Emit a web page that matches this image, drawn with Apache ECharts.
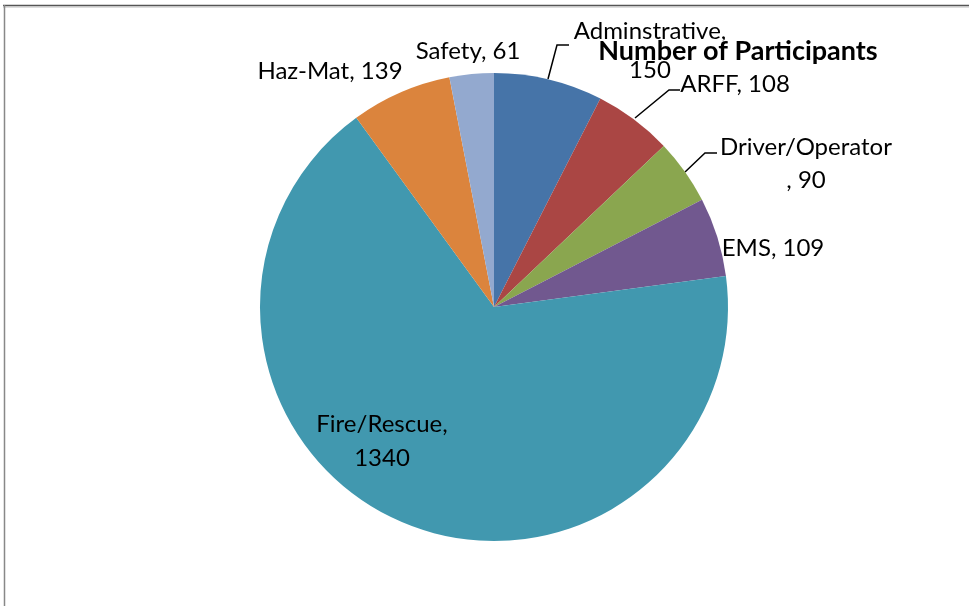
<!DOCTYPE html>
<html>
<head>
<meta charset="utf-8">
<script src="https://cdn.jsdelivr.net/npm/echarts@6/dist/echarts.min.js"></script>
<style>
html,body{margin:0;padding:0;background:#fff;}
#chart{width:969px;height:606px;}
</style>
</head>
<body>
<div id="chart"></div>
<script>
// ---- data ----
var categories = ['Adminstrative', 'ARFF', 'Driver/Operator', 'EMS', 'Fire/Rescue', 'Haz-Mat', 'Safety'];
var values = [150, 108, 90, 109, 1340, 139, 61];
var colors = ['#4674A8', '#AA4644', '#8AA64F', '#71588F', '#4198AF', '#DB843D', '#93A9CF'];
var chartTitle = 'Number of Participants';

// ---- label layout (text anchors & leader lines, in pixels) ----
var labelText = [
  'Adminstrative,\n150',
  'ARFF, 108',
  'Driver/Operator\n, 90',
  'EMS, 109',
  'Fire/Rescue,\n1340',
  'Haz-Mat, 139',
  'Safety, 61'
];
var labelPos = [
  [650, 51], [735, 84], [806, 164], [773, 248], [382, 441], [330, 71], [468, 51]
];
var labelLH = [39, 30, 33, 30, 34, 30, 30];
var leaderLines = [
  [[548, 79], [557, 45], [569, 45]],
  [[635, 118], [669, 90], [680, 90]],
  [[685, 172], [705, 153], [717, 153]],
  null, null, null, null
];

var FONT = 'Lato, "Open Sans", sans-serif';

var chart = echarts.init(document.getElementById('chart'), null, {renderer: 'canvas'});

var seriesData = categories.map(function (c, i) {
  return {
    name: c,
    value: values[i],
    itemStyle: {color: colors[i]},
    label: {lineHeight: labelLH[i]},
    labelLine: {show: !!leaderLines[i]}
  };
});

chart.setOption({
  animation: false,
  backgroundColor: '#ffffff',
  title: {
    text: chartTitle,
    left: 733,
    top: 46,
    textAlign: 'center',
    textVerticalAlign: 'middle',
    textStyle: {
      fontFamily: FONT,
      fontSize: 27,
      fontWeight: 'bold',
      color: '#000',
      textBorderColor: '#fff',
      textBorderWidth: 2
    }
  },
  graphic: [
    {type: 'line', shape: {x1: 3, y1: 5.5, x2: 969, y2: 5.5}, style: {stroke: '#555', lineWidth: 1.5}, z: 100},
    {type: 'line', shape: {x1: 3, y1: 7, x2: 969, y2: 7}, style: {stroke: '#bbb', lineWidth: 1}, z: 100},
    {type: 'line', shape: {x1: 4.5, y1: 5, x2: 4.5, y2: 606}, style: {stroke: '#888', lineWidth: 1.5}, z: 100}
  ],
  series: [{
    type: 'pie',
    center: [494, 307],
    radius: [0, 234],
    startAngle: 90,
    clockwise: true,
    avoidLabelOverlap: false,
    data: seriesData,
    itemStyle: {borderWidth: 0},
    emphasis: {disabled: true},
    label: {
      show: true,
      position: 'outside',
      formatter: function (p) { return labelText[p.dataIndex]; },
      fontFamily: FONT,
      fontSize: 24,
      color: '#000',
      align: 'center'
    },
    labelLine: {
      show: true,
      lineStyle: {color: '#000', width: 1.5}
    },
    labelLayout: function (params) {
      var i = params.dataIndex;
      var o = {
        x: labelPos[i][0],
        y: labelPos[i][1],
        align: 'center',
        verticalAlign: 'middle'
      };
      if (leaderLines[i]) o.labelLinePoints = leaderLines[i];
      return o;
    }
  }]
});
</script>
</body>
</html>
